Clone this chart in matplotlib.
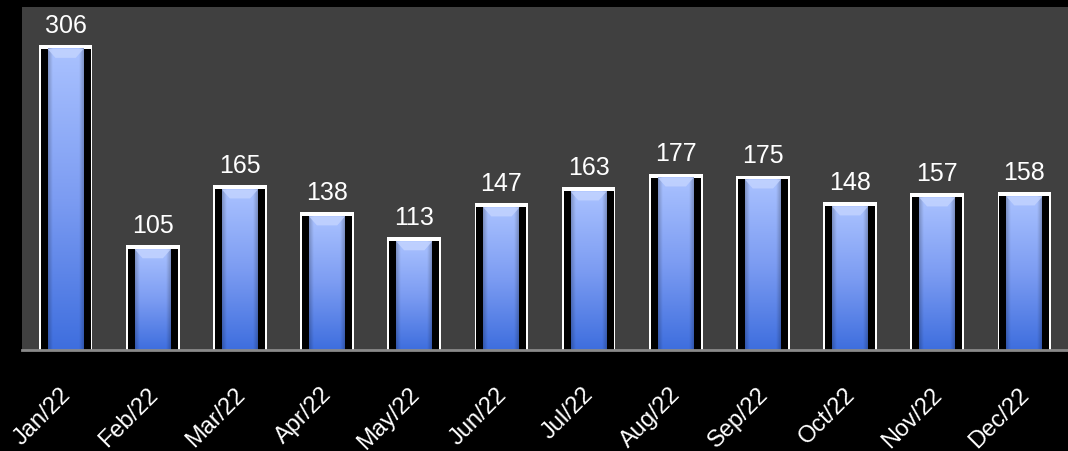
import matplotlib
matplotlib.use("Agg")
import matplotlib.pyplot as plt
import matplotlib.transforms as mtransforms
from matplotlib.patches import Polygon
import numpy as np

categories = ["Jan/22", "Feb/22", "Mar/22", "Apr/22", "May/22", "Jun/22",
              "Jul/22", "Aug/22", "Sep/22", "Oct/22", "Nov/22", "Dec/22"]
values = [306, 105, 165, 138, 113, 147, 163, 177, 175, 148, 157, 158]

plt.rcParams['font.family'] = ['Liberation Sans', 'DejaVu Sans']

fig = plt.figure(figsize=(10.68, 4.52), dpi=100, facecolor='black')
ax = fig.add_axes([22/1068, (452-351)/452, 1 - 22/1068, (351-8)/452])
ax.set_facecolor('#404040')

x = np.arange(len(categories))
ax.set_xlim(-0.5, len(categories) - 0.5)
ax.set_ylim(0, 344)

# outer white frame
ax.bar(x, values, width=0.614, color='white', zorder=2)
# black inner
ax.bar(x, [v - 4 for v in values], width=0.573, color='black', zorder=3)

# 2D gradient image for the blue body
top_c = np.array(matplotlib.colors.to_rgb('#aac2ff'))
mid_c = np.array(matplotlib.colors.to_rgb('#7c9cf2'))
bot_c = np.array(matplotlib.colors.to_rgb('#3e6ede'))
ny, nx = 200, 40
t = np.linspace(0, 1, ny)[:, None, None]  # 0 bottom -> 1 top
col = np.where(t < 0.5, bot_c + (mid_c - bot_c) * (t / 0.5),
               mid_c + (top_c - mid_c) * ((t - 0.5) / 0.5))
u = np.linspace(-1, 1, nx)[None, :, None]
shade = 1 - 0.22 * np.clip((np.abs(u) - 0.75) / 0.25, 0, 1)
img = np.clip(col * shade, 0, 1)

bw = 0.413
for xi, v in zip(x, values):
    top = v - 4
    ax.imshow(img, origin='lower', aspect='auto',
              extent=(xi - bw/2, xi + bw/2, 0, top), zorder=4,
              interpolation='bilinear')
    # top bevel
    bev = Polygon([(xi - bw/2, top), (xi + bw/2, top),
                   (xi + bw/2 - 0.09, top - 9), (xi - bw/2 + 0.09, top - 9)],
                  closed=True, facecolor='#c2d3ff', edgecolor='none', alpha=0.85, zorder=5)
    ax.add_patch(bev)
    ax.annotate(str(v), (xi, v), xytext=(0, 9.4), textcoords='offset points',
                ha='center', va='baseline', color='white', fontsize=18, zorder=6)

ax.set_xlim(-0.5, len(categories) - 0.5)
ax.set_ylim(0, 344)

for s in ['top', 'right', 'left']:
    ax.spines[s].set_visible(False)
ax.spines['bottom'].set_color('#8a8a8a')
ax.spines['bottom'].set_linewidth(2)
ax.spines['bottom'].set_zorder(7)
ax.set_yticks([])
ax.set_xticks(x)
ax.set_xticklabels(categories, rotation=45, ha='right', va='top',
                   rotation_mode='anchor', color='white', fontsize=17)
ax.tick_params(axis='x', length=0, pad=23.5)
offset = mtransforms.ScaledTranslation(-6/100, 0, fig.dpi_scale_trans)
for lab in ax.get_xticklabels():
    lab.set_transform(lab.get_transform() + offset)

fig.savefig('out.png', dpi=100, facecolor='black')
